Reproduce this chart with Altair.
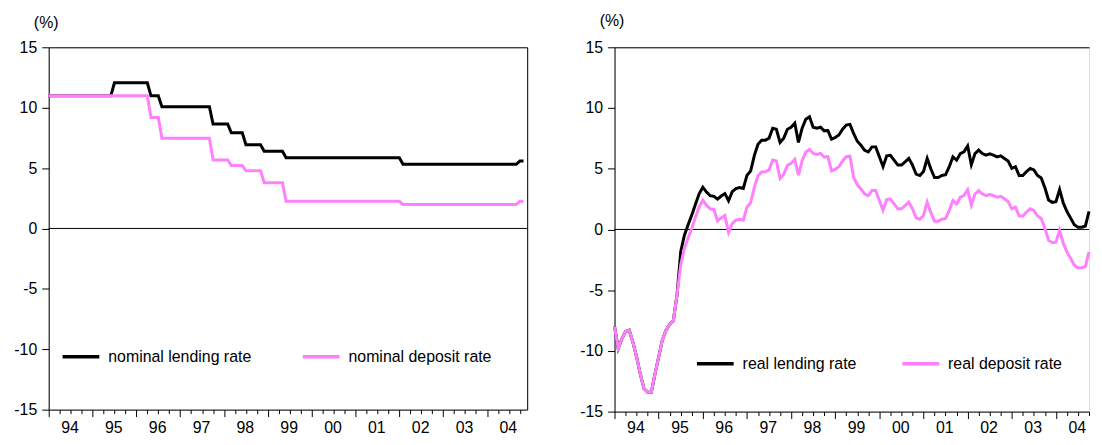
import altair as alt
import pandas as pd

# ---------------- data ----------------
# Nominal 1-year rates: month of each change and the new level (%)
lending_change = ["1994-01", "1995-07", "1996-05", "1996-08", "1997-10", "1998-03",
                  "1998-07", "1998-12", "1999-06", "2002-02", "2004-10"]
lending_level = [10.98, 12.06, 10.98, 10.08, 8.64, 7.92, 6.93, 6.39, 5.85, 5.31, 5.58]
deposit_change = ["1994-01", "1996-05", "1996-08", "1997-10", "1998-03", "1998-07",
                  "1998-12", "1999-06", "2002-02", "2004-10"]
deposit_level = [10.98, 9.18, 7.47, 5.67, 5.22, 4.77, 3.78, 2.25, 1.98, 2.25]
nominal_last = "2004-11"

# Real rates, monthly from 1994-01 to 2004-10 (%)
real_start = "1994-01"
real_lending = [
    -8.0, -9.8, -9.0, -8.4, -8.3, -9.3, -10.5, -11.9, -13.1, -13.4, -13.4, -11.9,
    -10.5, -9.1, -8.3, -7.8, -7.5, -5.35, -1.82, -0.47, 0.38, 1.18, 2.08, 2.93,
    3.48, 3.08, 2.78, 2.73, 2.5, 2.75, 2.95, 2.36, 3.11, 3.37, 3.45, 3.37,
    4.45, 4.81, 6.08, 7.02, 7.35, 7.35, 7.51, 8.33, 8.25, 7.17, 7.52, 8.25,
    8.41, 8.74, 7.17, 8.34, 9.07, 9.28, 8.42, 8.34, 8.42, 8.12, 8.15, 7.43,
    7.57, 7.78, 8.25, 8.6, 8.65, 7.9, 7.26, 6.93, 6.52, 6.39, 6.8, 6.8,
    5.98, 5.17, 6.06, 6.1, 5.7, 5.3, 5.3, 5.57, 5.85, 5.3, 4.55, 4.44,
    4.77, 5.85, 4.98, 4.28, 4.28, 4.44, 4.5, 5.17, 5.98, 5.7, 6.25, 6.39,
    6.87, 5.33, 6.25, 6.53, 6.25, 6.12, 6.23, 6.12, 5.98, 6.06, 5.85, 5.63,
    5.03, 5.17, 4.44, 4.44, 4.77, 5.03, 4.9, 4.44, 4.23, 3.43, 2.43, 2.23,
    2.28, 3.28, 2.18, 1.48, 0.93, 0.38, 0.18, 0.18, 0.28, 1.48]
real_deposit = [
    -8.0, -9.8, -9.0, -8.4, -8.3, -9.3, -10.5, -11.9, -13.1, -13.4, -13.4, -11.9,
    -10.5, -9.1, -8.3, -7.8, -7.5, -5.35, -2.9, -1.55, -0.7, 0.1, 1.0, 1.85,
    2.4, 2.0, 1.7, 1.65, 0.7, 0.95, 1.15, -0.25, 0.5, 0.76, 0.84, 0.76,
    1.84, 2.2, 3.47, 4.41, 4.74, 4.74, 4.9, 5.72, 5.64, 4.2, 4.55, 5.28,
    5.44, 5.77, 4.47, 5.64, 6.37, 6.58, 6.26, 6.18, 6.26, 5.96, 5.99, 4.82,
    4.96, 5.17, 5.64, 5.99, 6.04, 4.3, 3.66, 3.33, 2.92, 2.79, 3.2, 3.2,
    2.38, 1.57, 2.46, 2.5, 2.1, 1.7, 1.7, 1.97, 2.25, 1.7, 0.95, 0.84,
    1.17, 2.25, 1.38, 0.68, 0.68, 0.84, 0.9, 1.57, 2.38, 2.1, 2.65, 2.79,
    3.27, 2.0, 2.92, 3.2, 2.92, 2.79, 2.9, 2.79, 2.65, 2.73, 2.52, 2.3,
    1.7, 1.84, 1.11, 1.11, 1.44, 1.7, 1.57, 1.11, 0.9, 0.1, -0.9, -1.1,
    -1.05, -0.05, -1.15, -1.85, -2.4, -2.95, -3.15, -3.15, -3.05, -1.85]

nominal_names = ["nominal lending rate", "nominal deposit rate"]
real_names = ["real lending rate", "real deposit rate"]
year_labels = list(range(1994, 2005))

# ---------------- build tables ----------------
def month_index(s):
    y, m = map(int, s.split("-"))
    return (y - 1994) * 12 + (m - 1)


def step_series(changes, levels, n):
    idx = [month_index(c) for c in changes]
    out = []
    for k in range(n):
        j = max(i for i, c in enumerate(idx) if c <= k)
        out.append(levels[j])
    return out


n_nom = month_index(nominal_last) + 1
nom_rows = []
for name, ch, lv in [(nominal_names[0], lending_change, lending_level),
                     (nominal_names[1], deposit_change, deposit_level)]:
    for k, v in enumerate(step_series(ch, lv, n_nom)):
        nom_rows.append({"t": 1994 + k / 12, "v": v, "series": name})
nom_df = pd.DataFrame(nom_rows)

k0 = month_index(real_start)
real_rows = []
for name, vals in [(real_names[0], real_lending), (real_names[1], real_deposit)]:
    for k, v in enumerate(vals):
        real_rows.append({"t": 1994 + (k0 + k) / 12, "v": v, "series": name})
real_df = pd.DataFrame(real_rows)

quarters = [y + q * 0.25 for y in year_labels for q in range(4)]

FONT = "Liberation Sans"
PINK = "#FF80FF"
IS_YEAR = "datum.value % 1 == 0"


def frame_axis(orient):
    return alt.Axis(orient=orient, labels=False, ticks=False, title=None,
                    domain=True, domainColor="black", grid=False)


def panel(df, names, w, h, xmax, lx, ly, colpad, closed_right, title_y, xpad):
    xs = alt.Scale(domain=[1994, xmax], nice=False, zero=False)
    ys = alt.Scale(domain=[-15, 15], nice=False, zero=False)
    xaxis = alt.Axis(
        values=quarters,
        labelExpr=IS_YEAR + " ? substring('' + datum.value, 2, 4) : ''",
        labelOffset={"condition": {"test": IS_YEAR, "value": 21}, "value": 0},
        labelFlush=False, labelOverlap=False, labelPadding=xpad,
        tickSize={"condition": {"test": IS_YEAR, "value": 7}, "value": 4},
        grid=False, title=None, domainColor="black", tickColor="black",
        labelColor="black", labelFontSize=16, labelFont=FONT, orient="bottom")
    yaxis = alt.Axis(
        values=[-15, -10, -5, 0, 5, 10, 15], labelExpr="'' + datum.value",
        tickSize=7, labelPadding=5, grid=False, domainColor="black",
        tickColor="black", labelColor="black", labelFontSize=16, labelFont=FONT,
        title="(%)", titleAngle=0, titleX=-3, titleY=title_y, titleAlign="center",
        titleBaseline="alphabetic", titleFontSize=16, titleFont=FONT,
        titleFontWeight="normal", titleColor="black", orient="left")
    legend = alt.Legend(
        orient="none", legendX=lx, legendY=ly, direction="horizontal", title=None,
        symbolType="stroke", symbolSize=1369, symbolStrokeWidth=3.5,
        labelFontSize=16, labelFont=FONT, labelColor="black", labelLimit=400,
        columnPadding=colpad, labelOffset=7, padding=0)
    color = alt.Color("series:N", scale=alt.Scale(domain=names, range=["#000000", PINK]),
                      legend=legend)

    if closed_right:
        zero_y = alt.Y("zero:Q", scale=ys, axis=None)
        dep_y = alt.Y("v:Q", scale=ys, axis=frame_axis("right"))
    else:
        zero_y = alt.Y("zero:Q", scale=ys, axis=yaxis)
        dep_y = alt.Y("v:Q", scale=ys, axis=yaxis)

    zero = alt.Chart(pd.DataFrame({"zero": [0]})).mark_rule(
        color="black", strokeWidth=1).encode(y=zero_y)
    lend = alt.Chart(df).transform_filter(alt.datum.series == names[0]).mark_line(
        strokeWidth=3).encode(
        x=alt.X("t:Q", scale=xs, axis=xaxis),
        y=alt.Y("v:Q", scale=ys, axis=yaxis),
        color=color)
    dep = alt.Chart(df).transform_filter(alt.datum.series == names[1]).mark_line(
        strokeWidth=3).encode(
        x=alt.X("t:Q", scale=xs, axis=frame_axis("top")),
        y=dep_y,
        color=color)
    layer = alt.layer(zero, lend, dep).properties(width=w, height=h)
    if closed_right:
        layer = layer.resolve_axis(x="independent", y="independent")
    else:
        layer = layer.resolve_axis(x="independent")
    return layer


left = panel(nom_df, nominal_names, 482, 365, 1994 + 131 / 12, 12, 291, 44, True, -20, 3)
right = panel(real_df, real_names, 478, 367, 2004.75, 81, 298, 39, False, -22, 1)

chart = alt.hconcat(left, right, spacing=49).resolve_scale(color="independent").properties(
    padding={"left": 5, "top": 2, "right": -2, "bottom": -2}
).configure_view(stroke="transparent").configure(background="white")

chart.save("out.html", embed_options={"renderer": "svg", "actions": False})
